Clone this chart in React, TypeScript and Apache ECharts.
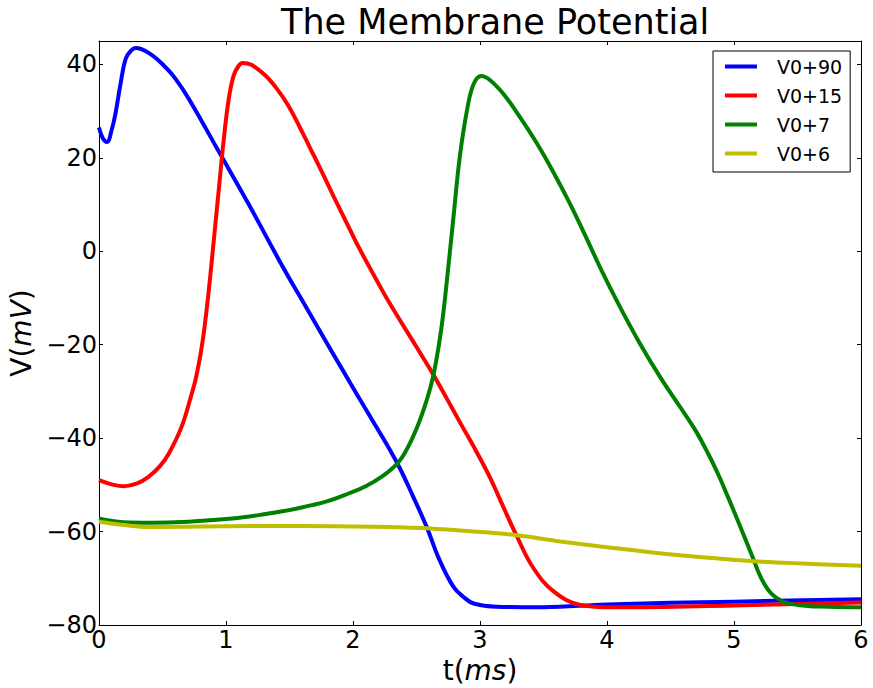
import React, { useEffect, useRef } from "react";
import * as echarts from "echarts";

const seriesNames = ["V0+90", "V0+15", "V0+7", "V0+6"];
const seriesColors = ["#0000ff", "#ff0000", "#008000", "#bfbf00"];

const tBlue = [0, 0.03, 0.063, 0.1, 0.13, 0.17, 0.21, 0.25, 0.29, 0.4, 0.52, 0.6, 0.71, 0.94, 1.18, 1.44, 1.58, 1.78, 1.92, 2.05, 2.21, 2.29, 2.37, 2.47, 2.58, 2.68, 2.79, 2.87, 2.95, 3.13, 3.5, 4.0, 5.0, 6.0];
const vBlue = [26.5, 24.2, 23.4, 26.0, 29.5, 35.9, 41.2, 42.9, 43.5, 42.3, 39.5, 37.0, 32.5, 21.5, 10.0, -3.0, -9.6, -19.0, -25.5, -31.5, -38.8, -42.5, -46.5, -52.3, -59.0, -66.0, -71.8, -74.0, -75.4, -76.1, -76.2, -75.6, -75.0, -74.5];

const tRed = [0, 0.1, 0.195, 0.3, 0.39, 0.48, 0.55, 0.65, 0.73, 0.76, 0.79, 0.81, 0.83, 0.86, 0.89, 0.94, 0.98, 1.02, 1.06, 1.1, 1.13, 1.2, 1.31, 1.4, 1.49, 1.58, 1.66, 1.73, 1.85, 1.98, 2.05, 2.17, 2.29, 2.5, 2.63, 2.74, 2.85, 2.97, 3.08, 3.18, 3.29, 3.42, 3.58, 3.79, 4.05, 5.0, 6.0];
const vRed = [-49.0, -49.9, -50.3, -49.7, -48.3, -46.0, -43.3, -37.6, -30.5, -27.5, -23.5, -20.3, -16.5, -9.5, -1.5, 12.3, 23.3, 32.3, 37.6, 39.7, 40.3, 39.9, 37.6, 34.8, 31.2, 26.6, 22.2, 18.4, 11.6, 4.4, 0.6, -5.4, -11.2, -20.5, -26.3, -31.6, -37.0, -42.8, -48.5, -54.5, -61.0, -67.8, -72.8, -75.7, -76.2, -75.8, -75.2];

const tGreen = [0, 0.15, 0.34, 0.6, 1.05, 1.3, 1.57, 1.8, 1.97, 2.1, 2.23, 2.35, 2.42, 2.5, 2.58, 2.63, 2.68, 2.71, 2.75, 2.79, 2.84, 2.9, 2.95, 3.01, 3.08, 3.18, 3.3, 3.45, 3.58, 3.7, 3.83, 3.95, 4.1, 4.26, 4.42, 4.58, 4.7, 4.8, 4.88, 4.94, 5.02, 5.14, 5.23, 5.34, 5.5, 5.75, 6.0];
const vGreen = [-57.2, -57.9, -58.1, -58.0, -57.2, -56.3, -55.0, -53.5, -51.8, -50.3, -48.2, -45.4, -42.6, -38.0, -31.9, -26.9, -19.4, -13.5, -3.5, 7.0, 20.0, 30.5, 35.8, 37.5, 36.6, 33.8, 29.3, 23.0, 16.8, 10.6, 3.3, -3.7, -11.8, -19.8, -27.0, -33.5, -38.5, -43.5, -48.0, -51.8, -57.0, -65.0, -70.8, -74.3, -75.7, -76.1, -76.2];

const tYellow = [0, 0.2, 0.39, 0.8, 1.2, 1.57, 2.0, 2.36, 2.58, 2.9, 3.26, 3.6, 3.95, 4.18, 4.47, 4.8, 5.13, 5.5, 6.0];
const vYellow = [-57.9, -58.6, -59.0, -58.9, -58.8, -58.8, -58.9, -59.1, -59.3, -59.9, -60.7, -62.0, -63.2, -63.9, -64.8, -65.6, -66.3, -66.8, -67.3];

const xMin = 0, xMax = 6, xInterval = 1;
const yMin = -80, yMax = 45, yInterval = 20;

const titleText = "The Membrane Potential";

const FONT = "DejaVu Sans";

function pairs(t: number[], v: number[]) {
  return t.map((x, i) => [x, v[i]]);
}

const fmt = (v: number) => (v === yMax ? "" : String(v).replace("-", "\u2212"));

export default function App() {
  const ref = useRef<HTMLDivElement>(null);
  useEffect(() => {
    if (!ref.current) return;
    const chart = echarts.init(ref.current, null, { renderer: "svg" });
    const allT = [tBlue, tRed, tGreen, tYellow];
    const allV = [vBlue, vRed, vGreen, vYellow];
    const tickCommon = { show: true, inside: true, length: 4, lineStyle: { color: "#000", width: 1 } };
    const lineCommon = { show: true, onZero: false, lineStyle: { color: "#000", width: 1 } };
    chart.setOption({
      animation: false,
      backgroundColor: "#fff",
      title: {
        text: titleText,
        left: 281,
        top: 4,
        padding: 0,
        textStyle: { fontFamily: FONT, fontSize: 35, fontWeight: "normal", color: "#000" },
      },
      legend: {
        orient: "vertical",
        left: 713,
        top: 51,
        padding: [6, 8, 9, 12],
        itemGap: 10,
        itemWidth: 32,
        itemHeight: 4,
        icon: "rect",
        borderColor: "#000",
        borderWidth: 1,
        backgroundColor: "#fff",
        data: seriesNames,
        textStyle: { fontFamily: FONT, fontSize: 19, color: "#000", padding: [0, 0, 0, 15] },
      },
      grid: {
        left: 99,
        right: 12,
        top: 41,
        bottom: 63,
        containLabel: false,
        outerBoundsMode: "none",
      },
      xAxis: [
        {
          type: "value",
          position: "bottom",
          min: xMin,
          max: xMax,
          interval: xInterval,
          axisLine: lineCommon,
          axisTick: tickCommon,
          splitLine: { show: false },
          axisLabel: {
            show: true,
            margin: 3,
            fontFamily: FONT,
            fontSize: 24,
            color: "#000",
            showMinLabel: true,
            showMaxLabel: true,
          },
          name: "{n|t(}{i|ms}{n|)}",
          nameLocation: "middle",
          nameGap: 30,
          nameTextStyle: {
            rich: {
              n: { fontFamily: FONT, fontSize: 28, color: "#000" },
              i: { fontFamily: FONT, fontSize: 28, fontStyle: "italic", color: "#000" },
            },
          },
        },
        {
          type: "value",
          position: "top",
          min: xMin,
          max: xMax,
          interval: xInterval,
          axisLine: lineCommon,
          axisTick: tickCommon,
          splitLine: { show: false },
          axisLabel: { show: false },
        },
      ],
      yAxis: [
        {
          type: "value",
          position: "left",
          min: yMin,
          max: yMax,
          interval: yInterval,
          axisLine: lineCommon,
          axisTick: tickCommon,
          splitLine: { show: false },
          axisLabel: {
            show: true,
            margin: 2,
            fontFamily: FONT,
            fontSize: 24,
            color: "#000",
            formatter: fmt,
            showMinLabel: true,
          },
          name: "{n|V(}{i|mV}{n|)}",
          nameLocation: "middle",
          nameGap: 63,
          nameRotate: 90,
          nameTextStyle: {
            rich: {
              n: { fontFamily: FONT, fontSize: 28, color: "#000" },
              i: { fontFamily: FONT, fontSize: 28, fontStyle: "italic", color: "#000" },
            },
          },
        },
        {
          type: "value",
          position: "right",
          min: yMin,
          max: yMax,
          interval: yInterval,
          axisLine: lineCommon,
          axisTick: tickCommon,
          splitLine: { show: false },
          axisLabel: { show: false },
        },
      ],
      series: seriesNames.map((name, i) => ({
        name,
        type: "line",
        xAxisIndex: 0,
        yAxisIndex: 0,
        data: pairs(allT[i], allV[i]),
        showSymbol: false,
        symbol: "none",
        smooth: 0.4,
        clip: true,
        color: seriesColors[i],
        lineStyle: { color: seriesColors[i], width: 4 },
        z: 2 + i,
      })),
    });
    return () => chart.dispose();
  }, []);
  return (
    <div
      ref={ref}
      style={{ position: "fixed", left: 0, top: 0, width: 873, height: 688, background: "#fff" }}
    />
  );
}
